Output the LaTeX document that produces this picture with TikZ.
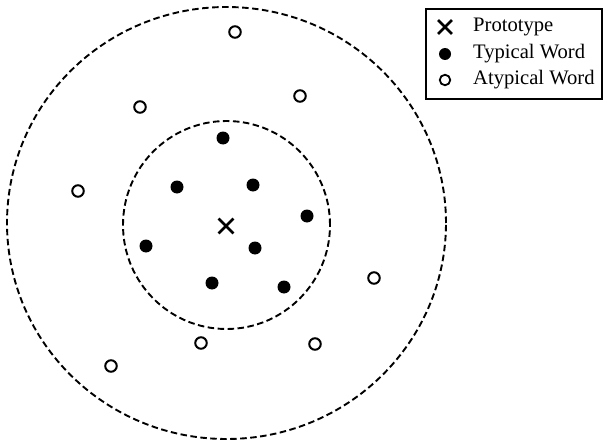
\documentclass[tikz,border=0pt]{standalone}
\usepackage{fontspec}
\setmainfont{Liberation Serif}
\usetikzlibrary{shapes.misc, positioning}

\begin{document}
\begin{tikzpicture}[
    x=1pt, y=-1pt,
    ring/.style={dash pattern=on 6.5pt off 3.5pt, line width=1.9pt},
    typical/.style={circle, fill=black, inner sep=0pt, minimum size=13pt},
    atypical/.style={circle, draw=black, line width=2pt, inner sep=0pt, minimum size=11.5pt},
    proto/.style={cross out, draw=black, line width=2.8pt, inner sep=0pt, minimum size=12pt},
    legtext/.style={anchor=west, inner sep=0pt, font=\fontsize{20.6}{24}\selectfont}
]

\useasboundingbox (0,0) rectangle (603,444);

% -------- Layout --------
\def\xc{226.5}
\def\xleg{445}
\def\xtext{473}

% -------- Category boundaries --------
\draw[ring] (\xc,223) ellipse [x radius=219.5pt, y radius=216pt];
\draw[ring] (\xc,225) ellipse [x radius=103.5pt, y radius=104pt];

% -------- Prototype --------
\node[proto] (p) at (226,226) {};

% -------- Typical words (inner region) --------
\foreach \x/\y [count=\i] in {223/138, 177/187, 253/185, 307/216,
                              146/246, 255/248, 212/283, 284/287} {
    \node[typical] (t\i) at (\x,\y) {};
}

% -------- Atypical words (outer region) --------
\foreach \x/\y [count=\i] in {235/32, 140/107, 300/96, 78/191,
                              374/278, 201/343, 315/344, 111/366} {
    \node[atypical] (a\i) at (\x,\y) {};
}

% -------- Legend --------
\draw[line width=1.1pt] (426,9) rectangle (602,99);

\node[proto, minimum size=11pt] (lp) at (\xleg,27) {};
\node[typical, minimum size=12pt] (lt) at (\xleg,54) {};
\node[atypical, minimum size=10.5pt, line width=1.8pt] (la) at (\xleg,80) {};

\node[legtext] (lpText) at (\xtext,27) {Prototype};
\node[legtext] (ltText) at (\xtext,54) {Typical Word};
\node[legtext] (laText) at (\xtext,80) {Atypical Word};

\end{tikzpicture}
\end{document}
